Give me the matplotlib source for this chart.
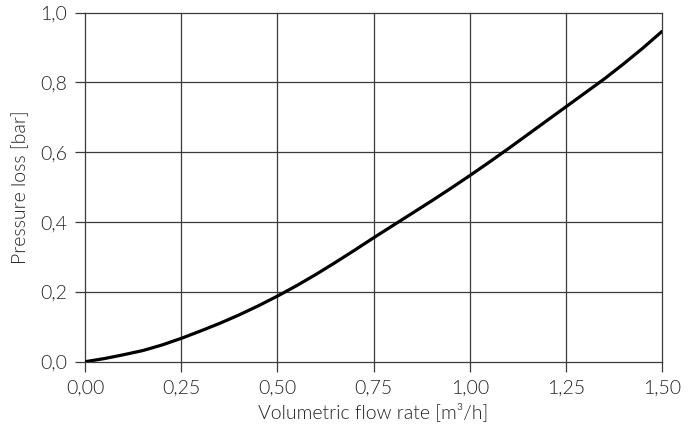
import matplotlib
matplotlib.use("Agg")
import matplotlib.pyplot as plt
from matplotlib.ticker import FuncFormatter
from matplotlib import font_manager

# Pressure loss curve
flow_rate = [0.0, 0.05, 0.1, 0.15, 0.2, 0.25, 0.3, 0.35, 0.4, 0.45, 0.5, 0.55, 0.6,
             0.65, 0.7, 0.75, 0.8, 0.85, 0.9, 0.95, 1.0, 1.05, 1.1, 1.15, 1.2,
             1.25, 1.3, 1.35, 1.4, 1.45, 1.5]
pressure_loss = [0.0, 0.009, 0.02, 0.032, 0.048, 0.067, 0.088, 0.11, 0.134, 0.16, 0.188,
                 0.218, 0.25, 0.284, 0.319, 0.355, 0.39, 0.425, 0.46, 0.496, 0.533,
                 0.571, 0.61, 0.65, 0.69, 0.73, 0.77, 0.81, 0.853, 0.898, 0.946]

x_ticks = [0.0, 0.25, 0.5, 0.75, 1.0, 1.25, 1.5]
y_ticks = [0.0, 0.2, 0.4, 0.6, 0.8, 1.0]

# Lato Light for all text
light_path = None
for f in font_manager.fontManager.ttflist:
    if f.fname.endswith('Lato-Light.ttf'):
        light_path = f.fname
        break
if light_path:
    fp = font_manager.FontProperties(fname=light_path, size=14)
else:
    fp = font_manager.FontProperties(family='Lato', size=14)

fig = plt.figure(figsize=(6.88, 4.33), dpi=100)
ax = fig.add_axes([0.124, 0.1647, 0.838, 0.806])

ax.plot(flow_rate, pressure_loss, color='black', lw=2.3, solid_capstyle='round', zorder=3)

ax.set_xlim(0, 1.5)
ax.set_ylim(0, 1.0)
ax.set_xticks(x_ticks)
ax.set_yticks(y_ticks)
ax.xaxis.set_major_formatter(FuncFormatter(lambda v, p: f"{v:.2f}".replace('.', ',')))
ax.yaxis.set_major_formatter(FuncFormatter(lambda v, p: f"{v:.1f}".replace('.', ',')))

ax.grid(True, color='#3a3a3a', lw=0.9)
for line in ax.get_xgridlines() + ax.get_ygridlines():
    line.set_clip_on(False)
for s in ax.spines.values():
    s.set_visible(False)
ax.tick_params(axis='both', length=7, width=0.9, color='#3a3a3a',
               labelcolor='#222222', pad=6)
for lab in ax.get_xticklabels() + ax.get_yticklabels():
    lab.set_fontproperties(fp)

ax.set_xlabel("Volumetric flow rate [m³/h]", fontproperties=fp, color='#222222', labelpad=4)
ax.set_ylabel("Pressure loss [bar]", fontproperties=fp, color='#222222', labelpad=8)

fig.savefig("out.png", dpi=100, facecolor='white')
